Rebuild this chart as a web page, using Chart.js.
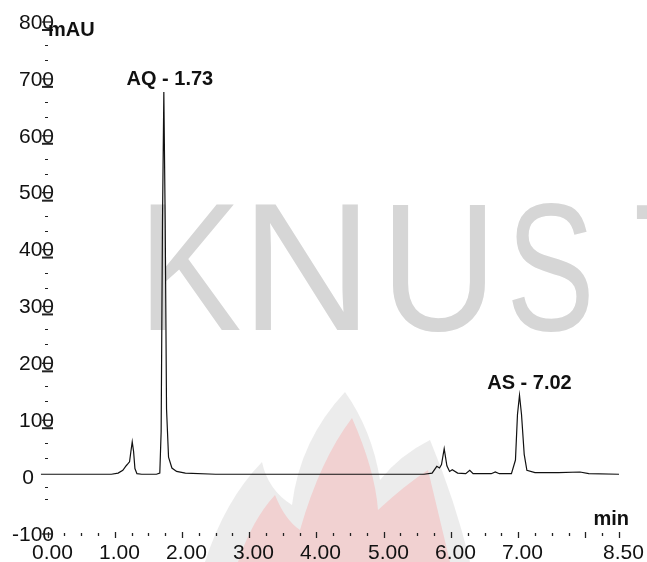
<!DOCTYPE html>
<html>
<head>
<meta charset="utf-8">
<script src="https://cdn.jsdelivr.net/npm/chart.js@4"></script>
<style>
  html, body { margin: 0; padding: 0; background: #ffffff; }
  #wrap { width: 647px; height: 562px; position: relative; }
</style>
</head>
<body>
<div id="wrap"><canvas id="c" width="647" height="562"></canvas></div>
<script>
// ---- Data ----
const retentionTimes = [-0.10, 0.50, 0.95, 1.05, 1.12, 1.17, 1.20, 1.22, 1.24, 1.26, 1.28, 1.30, 1.33, 1.40,
  1.62, 1.67, 1.69, 1.71, 1.73, 1.75, 1.77, 1.80, 1.85, 1.92, 2.05, 2.50, 3.50, 4.50,
  5.60, 5.72, 5.79, 5.83, 5.86, 5.90, 5.94, 5.98, 6.02, 6.10, 6.22, 6.28, 6.33, 6.60, 6.66, 6.72,
  6.90, 6.96, 6.99, 7.02, 7.05, 7.09, 7.13, 7.25, 7.60, 7.92, 8.05, 8.50];
const absorbance = [5, 5, 5, 7, 12, 20, 24, 27, 45, 62, 45, 15, 6, 5,
  5, 7, 80, 450, 677, 450, 120, 35, 16, 10, 7, 5, 5, 5,
  5, 7, 19, 16, 22, 50, 20, 10, 13, 7, 6, 12, 6, 6, 9, 6,
  6, 30, 110, 144, 110, 40, 12, 8, 8, 9, 6, 5];
const xTickValues = [0,0.25,0.5,0.75,1,1.25,1.5,1.75,2,2.25,2.5,2.75,3,3.25,3.5,3.75,4,4.25,4.5,4.75,5,5.25,5.5,5.75,6,6.25,6.5,6.75,7,7.25,7.5,7.75,8,8.25,8.5];
const xTickLabels = {0:"0.00",1:"1.00",2:"2.00",3:"3.00",4:"4.00",5:"5.00",6:"6.00",7:"7.00",8.5:"8.50"};
const yMajorValues = [800, 700, 600, 500, 400, 300, 200, 100, 0, -100];
const yTickLabels = ["800","700","600","500","400","300","200","100","0","-100"];
const peakNames = ["AQ - 1.73", "AS - 7.02"];
const peakTimes = [1.73, 7.02];
const peakHeights = [677, 144];

const FONT = '"Liberation Sans", Arial, Helvetica, sans-serif';

// watermark letters: left edge and width in pixels
const wmLetters = ['K', 'N', 'U', 'S', 'T'];
const wmLeft = [150, 255, 392, 512, 637];
const wmWidth = [90, 103, 93, 77, 100];

const watermark = {
  id: 'watermark',
  beforeDraw(chart) {
    const ctx = chart.ctx;
    ctx.save();
    ctx.fillStyle = '#d6d6d6';
    ctx.font = '181px ' + FONT;
    ctx.textBaseline = 'alphabetic';
    ctx.textAlign = 'left';
    wmLetters.forEach((ch, i) => {
      const m = ctx.measureText(ch);
      const w = m.actualBoundingBoxLeft + m.actualBoundingBoxRight;
      const sx = wmWidth[i] / w;
      ctx.save();
      ctx.translate(wmLeft[i], 330);
      ctx.scale(sx, 1);
      ctx.fillText(ch, m.actualBoundingBoxLeft, 0);
      ctx.restore();
    });
    // flame emblem (faded)
    ctx.fillStyle = 'rgba(205,205,205,0.38)';
    ctx.beginPath();
    ctx.moveTo(205, 562);
    ctx.quadraticCurveTo(225, 500, 262, 462);
    ctx.quadraticCurveTo(268, 490, 292, 505);
    ctx.quadraticCurveTo(300, 440, 345, 392);
    ctx.quadraticCurveTo(372, 430, 380, 480);
    ctx.quadraticCurveTo(400, 455, 430, 440);
    ctx.quadraticCurveTo(455, 500, 470, 562);
    ctx.closePath();
    ctx.fill();
    ctx.fillStyle = 'rgba(255,130,130,0.26)';
    ctx.beginPath();
    ctx.moveTo(238, 562);
    ctx.quadraticCurveTo(252, 520, 275, 495);
    ctx.quadraticCurveTo(285, 520, 300, 530);
    ctx.quadraticCurveTo(320, 460, 352, 418);
    ctx.quadraticCurveTo(375, 470, 378, 510);
    ctx.quadraticCurveTo(405, 485, 428, 470);
    ctx.quadraticCurveTo(440, 520, 450, 562);
    ctx.closePath();
    ctx.fill();
    ctx.restore();
  }
};

const axesDeco = {
  id: 'axesDeco',
  afterDatasetsDraw(chart) {
    const ctx = chart.ctx;
    const xs = chart.scales.x, ys = chart.scales.y;
    ctx.save();
    ctx.strokeStyle = '#222';
    ctx.fillStyle = '#111';
    // x ticks
    const yBase = ys.getPixelForValue(-100);
    xTickValues.forEach(v => {
      const px = Math.round(xs.getPixelForValue(v)) + 0.5;
      const major = Number.isInteger(v) || v === 8.5;
      ctx.lineWidth = 1.3;
      ctx.beginPath();
      if (major) { ctx.moveTo(px, yBase - 2); ctx.lineTo(px, yBase + 4); }
      else { ctx.moveTo(px, yBase - 1); ctx.lineTo(px, yBase + 2); }
      ctx.stroke();
      if (xTickLabels[v] !== undefined) {
        ctx.font = '21px ' + FONT;
        ctx.textAlign = 'center';
        ctx.textBaseline = 'middle';
        ctx.fillText(xTickLabels[v], px + 4, yBase + 19);
      }
    });
    // y ticks
    yMajorValues.forEach((v, i) => {
      const py = ys.getPixelForValue(v);
      ctx.font = '21px ' + FONT;
      ctx.textBaseline = 'middle';
      ctx.textAlign = 'right';
      ctx.fillStyle = '#111';
      ctx.fillText(yTickLabels[i], v === 0 ? 34 : 54, py + 1);
      if (v !== 0) {
        ctx.lineWidth = 1.3;
        ctx.beginPath(); ctx.moveTo(42, py); ctx.lineTo(53, py); ctx.stroke();
      }
      if (v > 0) {
        ctx.lineWidth = 2;
        ctx.beginPath(); ctx.moveTo(42, py + 8); ctx.lineTo(53, py + 8); ctx.stroke();
      }
      if (v >= 0) {
        const offs = v === 0 ? [10, 22] : [23, 38];
        ctx.lineWidth = 1;
        offs.forEach(o => {
          ctx.beginPath(); ctx.moveTo(45, Math.round(py + o) + 0.5); ctx.lineTo(48, Math.round(py + o) + 0.5); ctx.stroke();
        });
      }
    });
    // axis titles
    ctx.fillStyle = '#111';
    ctx.font = 'bold 20px ' + FONT;
    ctx.textAlign = 'left';
    ctx.textBaseline = 'middle';
    ctx.fillText('mAU', 48, ys.getPixelForValue(800) + 8);
    ctx.textAlign = 'right';
    ctx.fillText('min', 629, yBase - 15);
    // peak labels
    ctx.textAlign = 'center';
    ctx.textBaseline = 'bottom';
    peakNames.forEach((n, i) => {
      const px = xs.getPixelForValue(peakTimes[i]);
      const py = ys.getPixelForValue(peakHeights[i]);
      const dx = i === 0 ? 6 : 10;
      ctx.fillText(n, px + dx, py - 2);
    });
    ctx.restore();
  }
};

new Chart(document.getElementById('c'), {
  type: 'line',
  data: {
    datasets: [{
      data: retentionTimes.map((t, i) => ({ x: t, y: absorbance[i] })),
      borderColor: '#111',
      borderWidth: 1.2,
      pointRadius: 0,
      tension: 0,
      fill: false
    }]
  },
  options: {
    responsive: false,
    animation: false,
    events: [],
    layout: { padding: { left: 40.8, right: 28, top: 22, bottom: 28 } },
    plugins: { legend: { display: false }, tooltip: { enabled: false } },
    scales: {
      x: { type: 'linear', min: -0.1, max: 8.5, display: false },
      y: { type: 'linear', min: -100, max: 800, display: false }
    }
  },
  plugins: [watermark, axesDeco]
});
</script>
</body>
</html>
